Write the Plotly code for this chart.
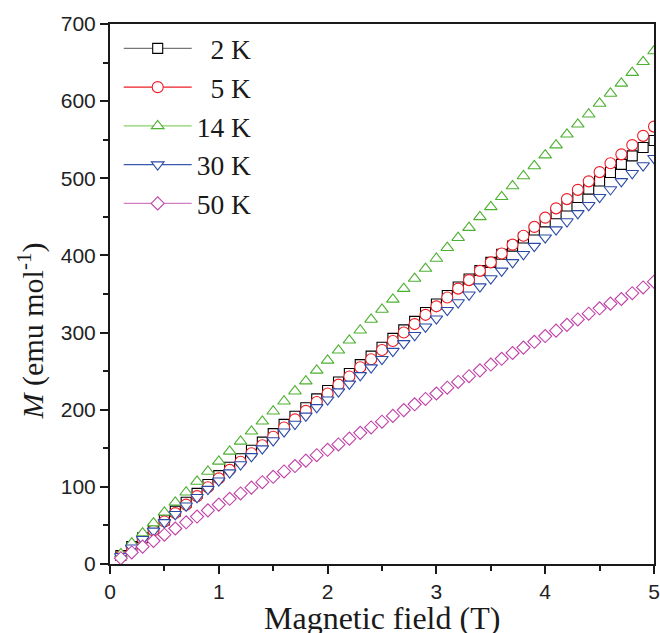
import plotly.graph_objects as go

field = [0.1, 0.2, 0.3, 0.4, 0.5, 0.6, 0.7, 0.8, 0.9, 1.0,
         1.1, 1.2, 1.3, 1.4, 1.5, 1.6, 1.7, 1.8, 1.9, 2.0,
         2.1, 2.2, 2.3, 2.4, 2.5, 2.6, 2.7, 2.8, 2.9, 3.0,
         3.1, 3.2, 3.3, 3.4, 3.5, 3.6, 3.7, 3.8, 3.9, 4.0,
         4.1, 4.2, 4.3, 4.4, 4.5, 4.6, 4.7, 4.8, 4.9, 5.0]

m_2K = [11, 22.5, 34, 45.5, 57, 68.5, 80, 91.5, 103, 114.5,
        125.5, 136.5, 147.5, 158, 169, 181, 191.5, 202.5, 214, 225,
        236, 247, 258.5, 269.5, 281, 292.5, 303.5, 314.5, 326, 337,
        348, 359, 369.5, 380.5, 391, 401.5, 412, 422.5, 433, 443.5,
        454, 464, 475, 486, 496.5, 507.5, 518, 529, 540, 549]

m_5K = [10.5, 21.5, 32.5, 43.5, 55, 66, 77, 88, 99.5, 111,
        122, 132.5, 143.5, 154, 165, 177, 187.5, 198.5, 210, 221,
        232.5, 243, 255, 265.5, 277.5, 289, 300, 311, 323, 334,
        345.5, 357, 368, 380, 391, 402.5, 414, 425.5, 437, 449,
        461, 473, 485, 496, 508, 519.5, 531, 543, 555, 567]

m_14K = [13, 27, 40, 53, 67, 80, 93, 107, 120, 133,
         146, 159, 172, 185, 198, 211, 224, 237, 251, 264,
         277, 290, 303, 317, 330, 343, 357, 370, 383, 396,
         410, 423, 436, 450, 463, 476, 490, 503, 516, 530,
         543, 557, 570, 583, 597, 610, 623, 637, 651, 665]

m_30K = [10, 21, 32, 43, 54, 64.5, 75.5, 86.5, 97, 108,
         118.5, 129, 139.5, 149.5, 160, 171.5, 181.5, 192, 203, 213,
         223.5, 233.5, 244.5, 254.5, 265.5, 276, 286, 296.5, 307.5, 318,
         329, 339, 349, 359.5, 370, 380, 391, 401.5, 412, 423,
         433.5, 444, 454.5, 465, 475.5, 485.5, 496, 506.5, 516.5, 526]

m_50K = [7.5, 15, 22.5, 30, 38, 46, 54, 61.5, 69.5, 77,
         84.5, 91.5, 99, 106, 113, 120, 127, 134, 141, 148,
         155, 162.5, 170, 177, 184.5, 192, 199.5, 207, 214, 221,
         228.5, 236, 243.5, 251, 258.5, 266, 273.5, 280.5, 288, 295.5,
         302.5, 310, 317, 324.5, 331.5, 337.5, 343.5, 351, 358.5, 366]

labels = ["\u00a0\u00a02 K", "\u00a0\u00a05 K", "14 K", "30 K", "50 K"]
series = [m_2K, m_5K, m_14K, m_30K, m_50K]
symbols = ["square", "circle", "triangle-up", "triangle-down", "diamond"]
sizes = [10, 11, 11, 11, 10]
colors = ["#000000", "#ee1c24", "#4cb030", "#2b4aa8", "#c040a8"]
line_colors = ["#777777", "#ee1c24", "#8ccf6a", "#3a5ab0", "#d27ec4"]

fig = go.Figure()
for i, (lab, ys) in enumerate(zip(labels, series)):
    fig.add_trace(go.Scatter(
        x=field, y=ys, mode="markers", name=lab, showlegend=False,
        marker=dict(symbol=symbols[i], size=sizes[i], color="white",
                    line=dict(color=colors[i], width=1.1)),
    ))
for i, lab in enumerate(labels):
    fig.add_trace(go.Scatter(
        x=[None], y=[None], mode="lines+markers", name=lab,
        line=dict(color=line_colors[i], width=1.2),
        marker=dict(symbol=symbols[i], size=sizes[i], color="white",
                    line=dict(color=colors[i], width=1.1)),
    ))

axis_common = dict(
    showline=True, linecolor="#1a1a1a", linewidth=2, mirror=True,
    showgrid=False, zeroline=False, automargin=False,
    ticks="outside", ticklen=8, tickwidth=2, tickcolor="#1a1a1a",
    tickfont=dict(family="Liberation Sans, Arial", size=21, color="#222222"),
)

fig.update_layout(
    width=660, height=633,
    margin=dict(l=110, r=6, t=24, b=69),
    paper_bgcolor="white", plot_bgcolor="white",
    xaxis=dict(range=[0, 5], dtick=1, tick0=0,
               minor=dict(dtick=0.5, ticks="outside", ticklen=5, tickwidth=2, tickcolor="#1a1a1a"),
               **axis_common),
    yaxis=dict(range=[0, 700], dtick=100, tick0=0,
               minor=dict(dtick=50, ticks="outside", ticklen=5, tickwidth=2, tickcolor="#1a1a1a"),
               **axis_common),
    legend=dict(x=0.016, y=1.0, xanchor="left", yanchor="top",
                bgcolor="rgba(0,0,0,0)", itemwidth=68, tracegroupgap=0,
                font=dict(family="Liberation Serif", size=27.5, color="#1a1a1a")),
    annotations=[
        dict(text="<i>M</i> (emu mol<sup>-1</sup>)", textangle=-90,
             xref="paper", yref="paper", x=-0.145, y=0.431,
             xanchor="center", yanchor="middle", showarrow=False,
             font=dict(family="Liberation Serif", size=30, color="#1a1a1a")),
        dict(text="Magnetic field (T)",
             xref="paper", yref="paper", x=0.5, y=-0.1,
             xanchor="center", yanchor="middle", showarrow=False,
             font=dict(family="Liberation Serif", size=32, color="#1a1a1a")),
    ],
)

fig.write_html("out.html", config={"displayModeBar": False},
               post_script="document.body.style.margin='0';document.body.style.padding='0';")
